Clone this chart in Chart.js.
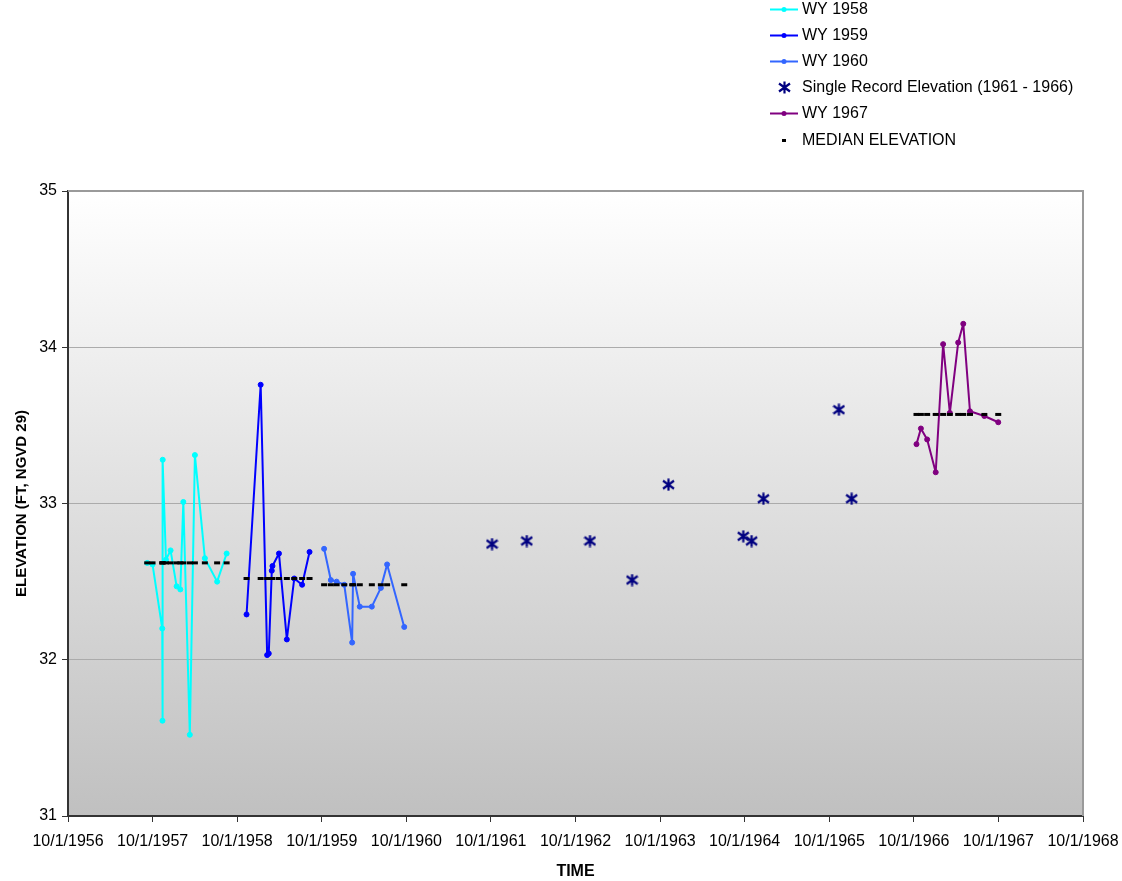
<!DOCTYPE html>
<html>
<head>
<meta charset="utf-8">
<title>Elevation by water year</title>
<script src="https://cdn.jsdelivr.net/npm/chart.js@4.4.1/dist/chart.umd.min.js"></script>
<style>
    html, body { margin: 0; padding: 0; background: #ffffff; }
    #chart-wrap { position: relative; width: 1122px; height: 881px; }
</style>
</head>
<body>
<div id="chart-wrap">
    <canvas id="elevation-chart" width="1122" height="881"></canvas>
</div>
<script>
// --- DATA ---
const AXIS_START = '1956-10-01';   // left edge of the time axis
const AXIS_YEARS = 12;             // 10/1/1956 .. 10/1/1968

const wy1958Dates = ['1957-09-08', '1957-10-01', '1957-11-12', '1957-11-13', '1957-11-14', '1957-11-28', '1957-12-18',
    '1958-01-13', '1958-01-29', '1958-02-11', '1958-03-11', '1958-04-02', '1958-05-15', '1958-07-07', '1958-08-17'];
const wy1958Elev = [32.62, 32.61, 32.20, 31.61, 33.28, 32.64, 32.70, 32.47, 32.45, 33.01, 31.52, 33.31, 32.65, 32.50, 32.68];

const wy1959Dates = ['1958-11-11', '1959-01-11', '1959-02-08', '1959-02-15', '1959-02-28', '1959-03-03', '1959-03-31',
    '1959-05-04', '1959-06-05', '1959-07-09', '1959-08-10'];
const wy1959Elev = [32.29, 33.76, 32.03, 32.04, 32.57, 32.60, 32.68, 32.13, 32.52, 32.48, 32.69];

const wy1960Dates = ['1959-10-12', '1959-11-10', '1959-12-05', '1960-01-07', '1960-02-10', '1960-02-14', '1960-03-14',
    '1960-05-05', '1960-06-13', '1960-07-10', '1960-09-22'];
const wy1960Elev = [32.71, 32.51, 32.50, 32.48, 32.11, 32.55, 32.34, 32.34, 32.46, 32.61, 32.21];

const singleDates = ['1961-10-06', '1962-03-05', '1962-12-03', '1963-06-03', '1963-11-07', '1964-09-25', '1964-10-31',
    '1964-12-21', '1965-11-12', '1966-01-06'];
const singleElev = [32.74, 32.76, 32.76, 32.51, 33.12, 32.79, 32.76, 33.03, 33.60, 33.03];

const wy1967Dates = ['1966-10-13', '1966-11-01', '1966-11-28', '1967-01-04', '1967-02-05', '1967-03-06', '1967-04-11',
    '1967-05-03', '1967-06-01', '1967-08-02', '1967-10-01'];
const wy1967Elev = [33.38, 33.48, 33.41, 33.20, 34.02, 33.58, 34.03, 34.15, 33.59, 33.56, 33.52];

// median elevation of each water year with a full record
const medianYears = ['WY 1958', 'WY 1959', 'WY 1960', 'WY 1967'];
const medianElev = [32.62, 32.52, 32.48, 33.57];

const yTicks = [31, 32, 33, 34, 35];

// --- HELPERS ---
const DAY_MS = 86400000;

// years elapsed since the left edge of the axis
function toAxisYears(dateStr) {
    const start = Date.parse(AXIS_START + 'T00:00:00Z');
    const t = Date.parse(dateStr + 'T00:00:00Z');
    return (t - start) / (365.25 * DAY_MS);
}

function toPoints(dates, values) {
    return dates.map((d, i) => ({ x: toAxisYears(d), y: values[i] }));
}

// the median series is drawn as a dash at every reading date of its water year
function medianPoints() {
    const dateSets = [wy1958Dates, wy1959Dates, wy1960Dates, wy1967Dates];
    const pts = [];
    dateSets.forEach((dates, i) => {
        dates.forEach(d => pts.push({ x: toAxisYears(d), y: medianElev[i] }));
    });
    return pts;
}

// Excel style asterisk marker: vertical bar plus an X
function makeAsterisk(color) {
    const c = document.createElement('canvas');
    c.width = 13;
    c.height = 13;
    const g = c.getContext('2d');
    g.strokeStyle = color;
    g.lineWidth = 2.2;
    g.beginPath();
    g.moveTo(6.5, 0.5); g.lineTo(6.5, 12.5);
    g.moveTo(1, 2.5); g.lineTo(12, 10.5);
    g.moveTo(12, 2.5); g.lineTo(1, 10.5);
    g.stroke();
    return c;
}

const asterisk = makeAsterisk('#000080');
const FONT = "'Liberation Sans', Arial, sans-serif";

function lineSeries(label, dates, values, color) {
    return {
        label: label,
        data: toPoints(dates, values),
        showLine: true,
        borderColor: color,
        backgroundColor: color,
        borderWidth: 2,
        borderJoinStyle: 'round',
        pointRadius: 2.5,
        pointBorderWidth: 1,
        pointStyle: 'circle',
        legendKind: 'line',
        order: 2
    };
}

const datasets = [
    lineSeries('WY 1958', wy1958Dates, wy1958Elev, '#00FFFF'),
    lineSeries('WY 1959', wy1959Dates, wy1959Elev, '#0000FF'),
    lineSeries('WY 1960', wy1960Dates, wy1960Elev, '#3366FF'),
    {
        label: 'Single Record Elevation (1961 - 1966)',
        data: toPoints(singleDates, singleElev),
        showLine: false,
        pointStyle: asterisk,
        borderColor: '#000080',
        backgroundColor: '#000080',
        legendKind: 'asterisk',
        order: 1
    },
    lineSeries('WY 1967', wy1967Dates, wy1967Elev, '#800080'),
    {
        label: 'MEDIAN ELEVATION',
        data: medianPoints(),
        showLine: false,
        pointStyle: 'line',
        pointRadius: 3,
        borderWidth: 3,
        borderColor: '#000000',
        backgroundColor: '#000000',
        legendKind: 'dash',
        order: 0
    }
];

// --- PLUGINS ---
// gray gradient behind the plot area plus the right border
const plotBackground = {
    id: 'plotBackground',
    beforeDraw(chart) {
        const { ctx, chartArea: a } = chart;
        const grad = ctx.createLinearGradient(0, a.top, 0, a.bottom);
        grad.addColorStop(0, '#FFFFFF');
        grad.addColorStop(1, '#C0C0C0');
        ctx.save();
        ctx.fillStyle = grad;
        ctx.fillRect(a.left, a.top, a.right - a.left, a.bottom - a.top);
        ctx.restore();
    },
    beforeDatasetsDraw(chart) {
        const { ctx, chartArea: a } = chart;
        ctx.save();
        ctx.strokeStyle = '#9a9a9a';
        ctx.lineWidth = 2;
        ctx.beginPath();
        ctx.moveTo(a.left, a.top);
        ctx.lineTo(a.right, a.top);
        ctx.lineTo(a.right, a.bottom);
        ctx.stroke();
        ctx.restore();
    }
};

// vertical legend in the top right corner
const sideLegend = {
    id: 'sideLegend',
    afterDraw(chart) {
        const ctx = chart.ctx;
        const lineStart = 770, lineEnd = 798, textX = 802;
        const top = 8.5, step = 26.2;
        ctx.save();
        ctx.font = '16px ' + FONT;
        ctx.textBaseline = 'middle';
        ctx.textAlign = 'left';
        chart.data.datasets.forEach((ds, i) => {
            const y = Math.round(top + i * step) + 0.5;
            const mid = (lineStart + lineEnd) / 2;
            if (ds.legendKind === 'line') {
                ctx.strokeStyle = ds.borderColor;
                ctx.lineWidth = 2;
                ctx.beginPath();
                ctx.moveTo(lineStart, y);
                ctx.lineTo(lineEnd, y);
                ctx.stroke();
                ctx.fillStyle = ds.borderColor;
                ctx.beginPath();
                ctx.arc(mid, y, 2.5, 0, Math.PI * 2);
                ctx.fill();
            } else if (ds.legendKind === 'asterisk') {
                ctx.drawImage(asterisk, Math.round(mid - 6.5), Math.round(y - 6.5));
            } else if (ds.legendKind === 'dash') {
                ctx.fillStyle = '#000000';
                ctx.fillRect(mid - 2, y - 1.5, 4, 3);
            }
            ctx.fillStyle = '#000000';
            ctx.fillText(ds.label, textX, y);
        });
        ctx.restore();
    }
};

// --- CHART ---
const ctx = document.getElementById('elevation-chart');

new Chart(ctx, {
    type: 'scatter',
    data: { datasets: datasets },
    options: {
        responsive: false,
        animation: false,
        devicePixelRatio: 1,
        events: [],
        layout: { padding: { top: 191, right: 39, left: 0, bottom: 0 } },
        plugins: {
            legend: { display: false },
            tooltip: { enabled: false }
        },
        scales: {
            x: {
                type: 'linear',
                min: 0,
                max: AXIS_YEARS,
                afterFit: scale => {
                    scale.height = 65;
                    scale.paddingRight = 0;
                },
                ticks: {
                    stepSize: 1,
                    autoSkip: false,
                    maxRotation: 0,
                    padding: 10,
                    color: '#000000',
                    font: { family: FONT, size: 16 },
                    callback: value => '10/1/' + (1956 + value)
                },
                grid: { drawOnChartArea: false, tickLength: 6, tickColor: '#333333' },
                border: { color: '#333333', width: 2 },
                title: {
                    display: true,
                    text: 'TIME',
                    color: '#000000',
                    font: { family: FONT, size: 16, weight: 'bold' },
                    padding: { top: 0, bottom: 0 }
                }
            },
            y: {
                min: 31,
                max: 35,
                afterFit: scale => { scale.width = 68; },
                afterBuildTicks: scale => { scale.ticks = yTicks.map(v => ({ value: v })); },
                ticks: {
                    padding: 5,
                    color: '#000000',
                    font: { family: FONT, size: 16 }
                },
                grid: { color: '#ababab', lineWidth: 1, tickLength: 6, tickColor: '#333333' },
                border: { color: '#333333', width: 2 },
                title: {
                    display: true,
                    text: 'ELEVATION (FT, NGVD 29)',
                    color: '#000000',
                    font: { family: FONT, size: 15, weight: 'bold' },
                    padding: { top: 13, bottom: 0 }
                }
            }
        }
    },
    plugins: [plotBackground, sideLegend]
});
</script>
</body>
</html>
